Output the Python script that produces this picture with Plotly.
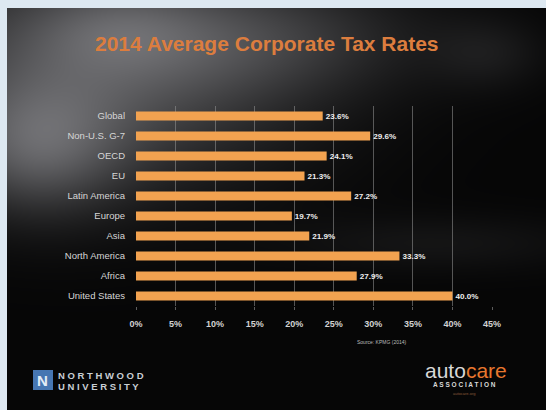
import base64
import struct
import zlib

import numpy as np
import plotly.graph_objects as go

# Chart data
regions = ["Global", "Non-U.S. G-7", "OECD", "EU", "Latin America",
           "Europe", "Asia", "North America", "Africa", "United States"]
rates = [23.6, 29.6, 24.1, 21.3, 27.2, 19.7, 21.9, 33.3, 27.9, 40.0]
tick_values = [0, 5, 10, 15, 20, 25, 30, 35, 40, 45]
tick_labels = ["0%", "5%", "10%", "15%", "20%", "25%", "30%", "35%", "40%", "45%"]

W, H = 546, 410
ML, MR, MT, MB = 136, 54, 106, 104
PW, PH = W - ML - MR, H - MT - MB

# Slide area inside the light frame
SX0, SY0 = 7, 8


def px_to_paper_x(px):
    return (px - ML) / PW


def py_to_paper_y(py):
    return 1 - (py - MT) / PH


def png_uri(arr):
    h, w, _ = arr.shape
    raw = b"".join(b"\x00" + arr[r].tobytes() for r in range(h))

    def chunk(tag, data):
        c = struct.pack(">I", len(data)) + tag + data
        return c + struct.pack(">I", zlib.crc32(tag + data) & 0xFFFFFFFF)

    png = (b"\x89PNG\r\n\x1a\n"
           + chunk(b"IHDR", struct.pack(">IIBBBBB", w, h, 8, 2, 0, 0, 0))
           + chunk(b"IDAT", zlib.compress(raw, 9))
           + chunk(b"IEND", b""))
    return "data:image/png;base64," + base64.b64encode(png).decode()


# Dark slide backdrop with soft grey smoke towards the top left
bw, bh = W - SX0, H - SY0
yy, xx = np.mgrid[0:bh, 0:bw].astype(float)
val = np.full((bh, bw), 6.0)


def blob(cx, cy, sx, sy, amp):
    return amp * np.exp(-(((xx - cx) / sx) ** 2 + ((yy - cy) / sy) ** 2) / 2)


val += blob(90, 60, 140, 80, 75)
val += blob(30, 140, 60, 45, 60)
val += blob(260, 30, 110, 40, 35)
val += blob(110, 20, 60, 30, 25)
val += blob(480, 45, 40, 25, 18)
val += blob(430, 235, 110, 20, 14)
val = np.clip(val, 0, 255)
rgb = np.stack([val, val, val * 1.03], axis=-1).clip(0, 255).astype(np.uint8)
bg_uri = png_uri(rgb)

fig = go.Figure()
fig.add_trace(go.Bar(
    x=rates,
    y=regions,
    orientation="h",
    marker=dict(color="#f2a250", line=dict(width=0)),
    width=0.45,
    text=[f"{v:.1f}%" for v in rates],
    textposition="outside",
    textfont=dict(family="Liberation Sans", size=9, color="#eeeeee", weight="bold"),
    cliponaxis=False,
    hoverinfo="skip",
))

fig.add_layout_image(
    source=bg_uri, xref="paper", yref="paper",
    x=px_to_paper_x(SX0), y=py_to_paper_y(SY0),
    sizex=(W - SX0) / PW, sizey=(H - SY0) / PH,
    sizing="stretch", xanchor="left", yanchor="top", layer="below",
)

annotations = [
    dict(text="<b>2014 Average Corporate Tax Rates</b>", x=px_to_paper_x(267), y=py_to_paper_y(43),
         font=dict(family="Liberation Sans", size=21, color="#dc7d3e")),
    dict(text="Source: KPMG (2014)", x=px_to_paper_x(382), y=py_to_paper_y(342),
         font=dict(family="Liberation Sans", size=5, color="#bbbbbb")),
    # Northwood University mark
    dict(text="<b>N</b>", x=px_to_paper_x(43), y=py_to_paper_y(380),
         font=dict(family="Liberation Sans", size=15, color="#e3ecf7")),
    dict(text="<b>N O R T H W O O D</b>", x=px_to_paper_x(56), y=py_to_paper_y(375), xanchor="left",
         font=dict(family="Liberation Sans", size=9.5, color="#c9ced4")),
    dict(text="<b>U N I V E R S I T Y</b>", x=px_to_paper_x(56), y=py_to_paper_y(386), xanchor="left",
         font=dict(family="Liberation Sans", size=9.5, color="#c9ced4")),
    # Auto Care Association mark
    dict(text="<span style='color:#d8d8d8'>auto</span><span style='color:#e8772e'>care</span>",
         x=px_to_paper_x(466), y=py_to_paper_y(370),
         font=dict(family="Liberation Sans", size=21, color="#d8d8d8")),
    dict(text="<b>A S S O C I A T I O N</b>", x=px_to_paper_x(464), y=py_to_paper_y(384),
         font=dict(family="Liberation Sans", size=6.5, color="#d8d8d8")),
    dict(text="autocare.org", x=px_to_paper_x(464), y=py_to_paper_y(393),
         font=dict(family="Liberation Sans", size=4, color="#8a5a3a")),
]
for a in annotations:
    a.setdefault("xanchor", "center")
    a.update(xref="paper", yref="paper", yanchor="middle", showarrow=False)
fig.update_layout(annotations=annotations)

fig.add_shape(type="rect", xref="paper", yref="paper",
              x0=px_to_paper_x(33), x1=px_to_paper_x(53),
              y0=py_to_paper_y(370), y1=py_to_paper_y(390),
              fillcolor="#4676b2", line=dict(width=0), layer="below")

fig.update_layout(
    width=W, height=H,
    margin=dict(l=ML, r=MR, t=MT, b=MB, pad=0),
    paper_bgcolor="#dde8f1",
    plot_bgcolor="rgba(0,0,0,0)",
    showlegend=False,
    xaxis=dict(
        range=[0, 45], tickvals=tick_values, ticktext=tick_labels,
        showgrid=True, gridcolor="rgba(150,150,150,0.55)", gridwidth=1,
        zeroline=False, showline=False,
        ticks="outside", ticklen=3, tickcolor="rgba(150,150,150,0.6)",
        tickfont=dict(family="Liberation Sans", size=9, color="#d2d2d2", weight="bold"),
        ticklabelstandoff=6, fixedrange=True,
    ),
    yaxis=dict(
        autorange="reversed", showgrid=False, zeroline=False, showline=False,
        ticks="", tickfont=dict(family="Liberation Sans", size=9.5, color="#d6d6d6"),
        ticklabelstandoff=10, fixedrange=True,
    ),
)

fig.write_html("out.html")
